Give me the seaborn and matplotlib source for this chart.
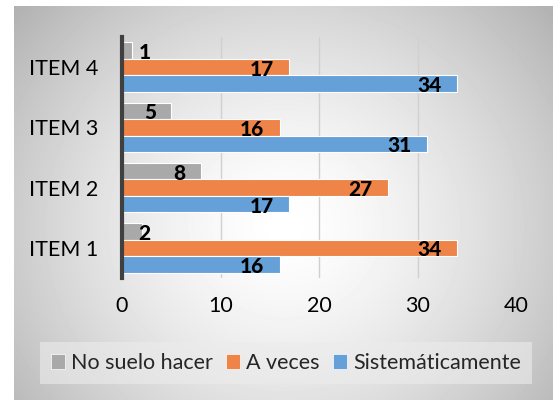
import numpy as np
import pandas as pd
import matplotlib
matplotlib.use('Agg')
import matplotlib.pyplot as plt
from matplotlib.patches import Patch
import seaborn as sns

# chart data
items = ['ITEM 4', 'ITEM 3', 'ITEM 2', 'ITEM 1']
series = ['No suelo hacer', 'A veces', 'Sistemáticamente']
no_suelo = [1, 5, 8, 2]
a_veces = [17, 16, 27, 34]
sistematicamente = [34, 31, 17, 16]
colors = ['#A9A9A9', '#EE8447', '#65A1D8']
x_ticks = [0, 10, 20, 30, 40]

df = pd.DataFrame({
    'item': items * 3,
    'serie': [series[0]] * 4 + [series[1]] * 4 + [series[2]] * 4,
    'valor': no_suelo + a_veces + sistematicamente,
})

sns.set_style('white')
plt.rcParams['font.family'] = ['Lato', 'DejaVu Sans']

fig = plt.figure(figsize=(5.53, 4.0), dpi=100)

# gray radial gradient background panel
bg = fig.add_axes([14 / 553, 0, 1 - 14 / 553, 394 / 400], zorder=-10)
yy, xx = np.mgrid[0:394, 0:539]
r = np.sqrt(((xx - 270) / 320.0) ** 2 + ((yy - 220) / 300.0) ** 2)
shade = 1 - 0.26 * np.clip(r, 0, 1.2) ** 1.5
bg.imshow(shade, cmap='gray', vmin=0, vmax=1, aspect='auto', interpolation='bilinear')
bg.axis('off')

ax = fig.add_axes([122 / 553, 1 - 278 / 400, (516 - 122) / 553, (278 - 37) / 400])
ax.patch.set_alpha(0)
sns.barplot(data=df, y='item', x='valor', hue='serie', order=items, hue_order=series,
            palette=colors, orient='h', width=0.82, gap=0, edgecolor='white', linewidth=0.8,
            saturation=1, ax=ax, legend=False, zorder=3)

ax.set_xlim(0, 40)
ax.set_ylim(3.5, -0.5)
ax.set_xticks(x_ticks)
ax.set_xlabel('')
ax.set_ylabel('')
ax.grid(axis='x', color='#d0d0d0', linewidth=1, zorder=0)
for s in ['top', 'right', 'bottom']:
    ax.spines[s].set_visible(False)
ax.spines['left'].set_color('#404040')
ax.spines['left'].set_linewidth(3)
ax.spines['left'].set_zorder(5)
ax.tick_params(axis='both', length=0, labelsize=15.5, colors='black')
ax.tick_params(axis='x', pad=13)
ax.tick_params(axis='y', pad=17)

# data labels
for cont in ax.containers:
    for bar in cont:
        v = bar.get_width()
        yc = bar.get_y() + bar.get_height() / 2
        if v < 3:
            ax.annotate(f'{v:.0f}', (0, yc), xytext=(12, -1.5), textcoords='offset points',
                        ha='left', va='center', fontsize=15, fontweight='black',
                        color='black', zorder=6)
        else:
            ax.annotate(f'{v:.0f}', (v, yc), xytext=(-11, -1.5), textcoords='offset points',
                        ha='right', va='center', fontsize=15, fontweight='black',
                        color='black', zorder=6)

handles = [Patch(facecolor=c, edgecolor='white', linewidth=0.5) for c in colors]
leg = fig.legend(handles, series, loc='center', bbox_to_anchor=(286 / 553, 1 - 363 / 400),
                 ncol=3, fontsize=15.5, frameon=True, handlelength=0.65, handleheight=0.65,
                 handletextpad=0.3, columnspacing=0.6, borderpad=0.5, fancybox=False)
leg.get_frame().set_facecolor('#ececec')
leg.get_frame().set_alpha(0.6)
leg.get_frame().set_edgecolor('none')

fig.savefig('out.png', dpi=100)
